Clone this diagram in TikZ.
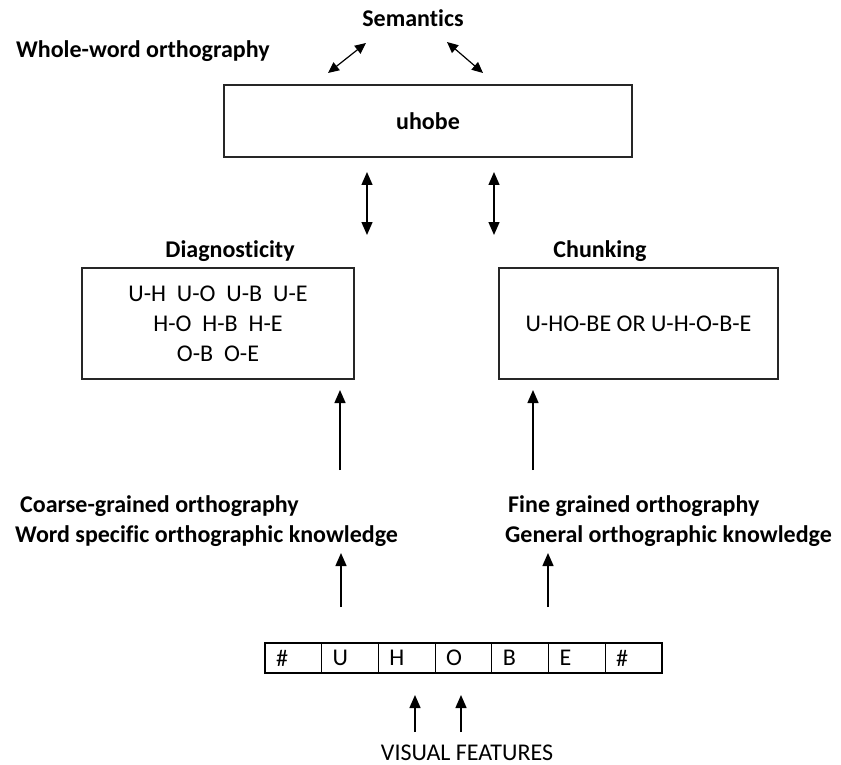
\documentclass[tikz,border=0pt]{standalone}
\usepackage{fontspec}
\setmainfont{Carlito}[Ligatures=NoCommon]
\usetikzlibrary{arrows.meta}
\begin{document}
\begin{tikzpicture}[x=1pt,y=-1pt,
  lbl/.style={font=\fontsize{24}{30}\selectfont\bfseries, inner sep=0pt, text height=15.5pt, text depth=0pt},
  txt/.style={font=\fontsize{24}{30}\selectfont, inner sep=0pt},
  box/.style={draw=black!85, line width=2pt, inner sep=0pt},
  arr/.style={line width=1.4pt, -{Triangle[length=13pt,width=11pt]}},
  darr/.style={line width=1.4pt, {Triangle[length=13pt,width=11pt]}-{Triangle[length=13pt,width=11pt]}},
  sarr/.style={line width=1.2pt, {Triangle[length=11pt,width=10pt]}-{Triangle[length=11pt,width=10pt]}},
  cell/.style={draw, line width=1.2pt, minimum width=56.7pt, minimum height=30pt, text width=34.7pt, inner xsep=11pt, inner ysep=0pt, align=left, font=\fontsize{24}{30}\selectfont}
]
\useasboundingbox (0,0) rectangle (841,765);

% top
\node[lbl] (sem) at (413,19) {Semantics};
\node[lbl, anchor=west] (whole) at (16,50) {Whole-word orthography};
\node[box, minimum width=408pt, minimum height=72pt, font=\fontsize{24}{30}\selectfont\bfseries] (word) at (428,121) {uhobe};

\coordinate (sl1) at (328,73);
\coordinate (sl2) at (366,43);
\coordinate (sr1) at (447,42);
\coordinate (sr2) at (483,73);
\draw[sarr] (sl1) -- (sl2);
\draw[sarr] (sr1) -- (sr2);

% middle
\node[lbl] (diagl) at (230,250) {Diagnosticity};
\node[box, txt, align=center, minimum width=272pt, minimum height=111pt] (diag) at (218,323.5)
  {U-H\ \ U-O\ \ U-B\ \ U-E\\H-O\ \ H-B\ \ H-E\\O-B\ \ O-E};
\node[lbl] (chl) at (600,250) {Chunking};
\node[box, txt, minimum width=279pt, minimum height=111pt] (chunk) at (638.5,323.5) {U-HO-BE OR U-H-O-B-E};

\coordinate (v1a) at (367,172);
\coordinate (v1b) at (367,235);
\coordinate (v2a) at (494,172);
\coordinate (v2b) at (494,235);
\draw[darr] (v1a) -- (v1b);
\draw[darr] (v2a) -- (v2b);

% arrows into boxes
\coordinate (u1a) at (340,470);
\coordinate (u1b) at (340,390);
\coordinate (u2a) at (533,470);
\coordinate (u2b) at (533,390);
\draw[arr] (u1a) -- (u1b);
\draw[arr] (u2a) -- (u2b);

% lower labels
\node[lbl, anchor=west] (coarse) at (20,505) {Coarse-grained orthography};
\node[lbl, anchor=west] (wsok) at (15,535) {Word specific orthographic knowledge};
\node[lbl, anchor=west] (fine) at (508,505) {Fine grained orthography};
\node[lbl, anchor=west] (gok) at (505,535) {General orthographic knowledge};

\coordinate (p1a) at (341,607);
\coordinate (p1b) at (341,553);
\coordinate (p2a) at (548,607);
\coordinate (p2b) at (548,553);
\draw[arr] (p1a) -- (p1b);
\draw[arr] (p2a) -- (p2b);

% letter strip
\foreach \l [count=\i from 0] in {\#,U,H,O,B,E,\#}
  \node[cell] (c\i) at ({265+56.7*\i+28.35},658) {\l};

\coordinate (f1a) at (415,732);
\coordinate (f1b) at (415,695);
\coordinate (f2a) at (461,732);
\coordinate (f2b) at (461,695);
\draw[arr] (f1a) -- (f1b);
\draw[arr] (f2a) -- (f2b);
\node[txt] (vf) at (467,753) {VISUAL FEATURES};
\end{tikzpicture}
\end{document}
